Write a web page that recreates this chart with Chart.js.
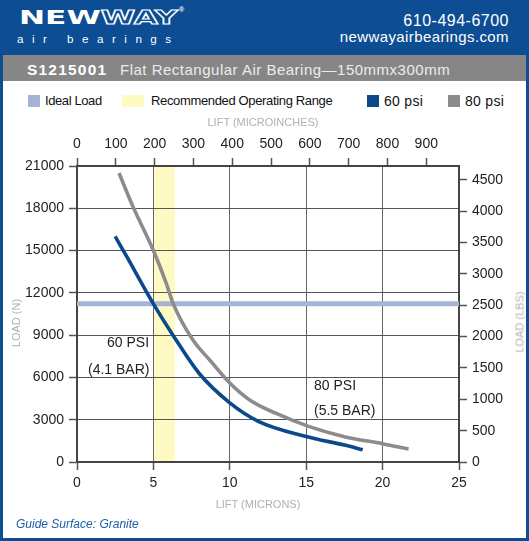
<!DOCTYPE html>
<html>
<head>
<meta charset="utf-8">
<script src="https://cdn.jsdelivr.net/npm/chart.js@4.4.0/dist/chart.umd.min.js"></script>
<style>
  body { margin: 0; background: #fff; font-family: "Liberation Sans", Arial, sans-serif; }
  #page { position: relative; width: 529px; height: 541px; background: #0c4d93; overflow: hidden; }
  .abs { position: absolute; white-space: nowrap; }
  #bar { left: 3px; top: 55px; width: 523px; height: 26px; background: #868686; }
  #sheet { left: 3px; top: 81px; width: 523px; height: 457px; background: #fff; }

  /* header */
  #logo { left: 19px; top: 7.5px; font: bold 19.5px/19.5px "DejaVu Sans", sans-serif; color: #fff;
          transform: scaleX(1.6); transform-origin: left top; }
  #logo .way { color: #0c4d93; -webkit-text-stroke: 1.1px #fff; }
  #reg { left: 179px; top: 6px; font: bold 7px/7px "Liberation Sans", Arial, sans-serif; color: #fff; }
  #sub { left: 17px; top: 33px; font: 11.6px/11.6px "Liberation Sans", Arial, sans-serif; color: #fff; letter-spacing: 8.5px; }
  #phone { right: 20px; top: 13px; font: 16px/16px "Liberation Sans", Arial, sans-serif; color: #fff; letter-spacing: 0.5px; }
  #url { right: 20px; top: 29px; font: 15px/15px "Liberation Sans", Arial, sans-serif; color: #fff; letter-spacing: 0.4px; }

  /* title bar */
  #code { left: 27px; top: 62px; font: bold 15.5px/15.5px "Liberation Sans", Arial, sans-serif; color: #fff; letter-spacing: 1.2px; }
  #name { left: 120px; top: 62px; font: 15px/15px "Liberation Sans", Arial, sans-serif; color: #ececec; letter-spacing: 0.5px; }

  /* legend */
  .sw { position: absolute; top: 95px; height: 12px; }
  .lg { position: absolute; top: 94px; font: 13px/14px "Liberation Sans", Arial, sans-serif; color: #111; white-space: nowrap; }

  .axt { position: absolute; font: 11px/11px "Liberation Sans", Arial, sans-serif; color: #b0b0b0; white-space: nowrap;
         transform: translate(-50%, -50%); }
  .rot { transform: translate(-50%, -50%) rotate(-90deg); }
  .note { position: absolute; font: 14px/14px "Liberation Sans", Arial, sans-serif; color: #222; white-space: nowrap; }

  #guide { left: 16px; top: 518px; font: italic 12px/12px "Liberation Sans", Arial, sans-serif; color: #1d5ea8; }
  #chart { position: absolute; left: 0; top: 110px; }
</style>
</head>
<body>
<div id="page">
  <div class="abs" id="bar"></div>
  <div class="abs" id="sheet"></div>

  <div class="abs" id="logo">NEW<span class="way">WAY</span></div>
  <div class="abs" id="reg">®</div>
  <div class="abs" id="sub">air bearings</div>
  <div class="abs" id="phone">610-494-6700</div>
  <div class="abs" id="url">newwayairbearings.com</div>

  <div class="abs" id="code">S1215001</div>
  <div class="abs" id="name">Flat Rectangular Air Bearing—150mmx300mm</div>

  <div class="sw" style="left:28px;width:12px;background:#a6b3d7"></div>
  <div class="lg" style="left:45px;letter-spacing:-0.4px">Ideal Load</div>
  <div class="sw" style="left:122px;width:22px;background:#fffac4"></div>
  <div class="lg" style="left:151px;letter-spacing:-0.35px">Recommended Operating Range</div>
  <div class="sw" style="left:367px;width:12px;background:#0a4a8c"></div>
  <div class="lg" style="left:384px;font-size:14px;letter-spacing:0.3px">60 psi</div>
  <div class="sw" style="left:448px;width:12px;background:#8c8c8c"></div>
  <div class="lg" style="left:465px;font-size:14px;letter-spacing:0.3px">80 psi</div>

  <canvas id="chart" width="529" height="410"></canvas>

  <div class="axt" style="left:263px;top:122px">LIFT (MICROINCHES)</div>
  <div class="axt" style="left:258px;top:504px">LIFT (MICRONS)</div>
  <div class="axt rot" style="left:16px;top:323px">LOAD (N)</div>
  <div class="axt rot" style="left:520px;top:322px">LOAD (LBS)</div>

  <div class="note" style="left:107px;top:335px">60 PSI</div>
  <div class="note" style="left:88px;top:362px">(4.1 BAR)</div>
  <div class="note" style="left:314px;top:378px">80 PSI</div>
  <div class="note" style="left:314px;top:403px">(5.5 BAR)</div>

  <div class="abs" id="guide">Guide Surface: Granite</div>
</div>

<script>
/* ── Data ──────────────────────────────────────────────────────────────── */
const lift60 = [2.5, 3.24, 5.0, 6.28, 8.0, 10, 11.9, 15, 17.5, 18.7];
const load60 = [16000, 14600, 11220, 9000, 6280, 4200, 2870, 1810, 1200, 870];

const lift80 = [2.75, 3.67, 5.0, 5.85, 6.3, 7.6, 8.7, 10, 11.3, 13.0, 15.2, 17.5, 20, 21.7];
const load80 = [20500, 18100, 15000, 12650, 11220, 8630, 7220, 5600, 4400, 3460, 2510, 1800, 1300, 920];

const idealLoad = 11230;          // N
const rangeMicrons = [5.0, 6.4];  // recommended operating range

const micronTicks = [0, 5, 10, 15, 20, 25];
const microinchTicks = [0, 100, 200, 300, 400, 500, 600, 700, 800, 900];
const newtonTicks = [0, 3000, 6000, 9000, 12000, 15000, 18000, 21000];
const poundTicks = [0, 500, 1000, 1500, 2000, 2500, 3000, 3500, 4000, 4500];

const MICRON_MAX = 25;
const LOAD_MAX = 21000;
const UM_PER_UIN = 0.0254;
const N_PER_LB = 4.44822;

/* ── Chart ─────────────────────────────────────────────────────────────── */
const toXY = (xs, ys) => xs.map((x, i) => ({ x, y: ys[i] }));
const fixTicks = list => scale => { scale.ticks = list.map(v => ({ value: v })); };

const bandPlugin = {
  id: 'band',
  beforeDraw(chart) {
    const { ctx, chartArea: a, scales: { x } } = chart;
    const x0 = x.getPixelForValue(rangeMicrons[0]);
    const x1 = x.getPixelForValue(rangeMicrons[1]);
    ctx.save();
    ctx.fillStyle = '#fffac4';
    ctx.fillRect(x0, a.top, x1 - x0, a.bottom - a.top);
    ctx.restore();
  },
};

Chart.defaults.font.family = '"Liberation Sans", Arial, sans-serif';
Chart.defaults.font.size = 14;
Chart.defaults.color = '#222';

const tickFont = { size: 14 };
const border = { color: '#444', width: 2 };
const curve = { borderWidth: 3.6, pointRadius: 0, cubicInterpolationMode: 'monotone', borderJoinStyle: 'round',
                xAxisID: 'x', yAxisID: 'y' };

new Chart(document.getElementById('chart'), {
  type: 'line',
  data: {
    datasets: [
      { ...curve, label: '60 psi', data: toXY(lift60, load60), borderColor: '#0a4a8c', order: 1 },
      { ...curve, label: '80 psi', data: toXY(lift80, load80), borderColor: '#8c8c8c', order: 2 },
      {
        label: 'Ideal Load', data: [{ x: 0, y: idealLoad }, { x: MICRON_MAX, y: idealLoad }],
        borderColor: '#a6b3d7', borderWidth: 5, pointRadius: 0,
        xAxisID: 'x', yAxisID: 'y', order: 3,
      },
    ],
  },
  options: {
    responsive: false,
    animation: false,
    events: [],
    layout: { padding: 0 },
    plugins: { legend: { display: false }, tooltip: { enabled: false } },
    scales: {
      x: {
        type: 'linear', position: 'bottom', min: 0, max: MICRON_MAX,
        afterBuildTicks: fixTicks(micronTicks),
        afterFit: s => { s.height = 58; },
        ticks: { font: tickFont, padding: 5, maxRotation: 0, callback: v => v },
        grid: { color: '#666', lineWidth: 1, tickLength: 8, tickColor: '#555', tickWidth: 1.5 },
        border,
      },
      x2: {
        type: 'linear', position: 'top', min: 0, max: MICRON_MAX / UM_PER_UIN,
        afterBuildTicks: fixTicks(microinchTicks),
        afterFit: s => { s.height = 56; },
        ticks: { font: tickFont, padding: 5, maxRotation: 0, callback: v => v },
        grid: { drawOnChartArea: false, tickLength: 8, tickColor: '#555', tickWidth: 1.5 },
        border,
      },
      y: {
        type: 'linear', position: 'left', min: 0, max: LOAD_MAX,
        afterBuildTicks: fixTicks(newtonTicks),
        afterFit: s => { s.width = 77; },
        ticks: { font: tickFont, padding: 5, callback: v => v },
        grid: { color: '#555', lineWidth: 1, tickLength: 8, tickColor: '#555', tickWidth: 1.5 },
        border,
      },
      y2: {
        type: 'linear', position: 'right', min: 0, max: LOAD_MAX / N_PER_LB,
        afterBuildTicks: fixTicks(poundTicks),
        afterFit: s => { s.width = 70; },
        ticks: { font: tickFont, padding: 5, callback: v => v },
        grid: { drawOnChartArea: false, tickLength: 8, tickColor: '#555', tickWidth: 1.5 },
        border,
      },
    },
  },
  plugins: [bandPlugin],
});
</script>
</body>
</html>
